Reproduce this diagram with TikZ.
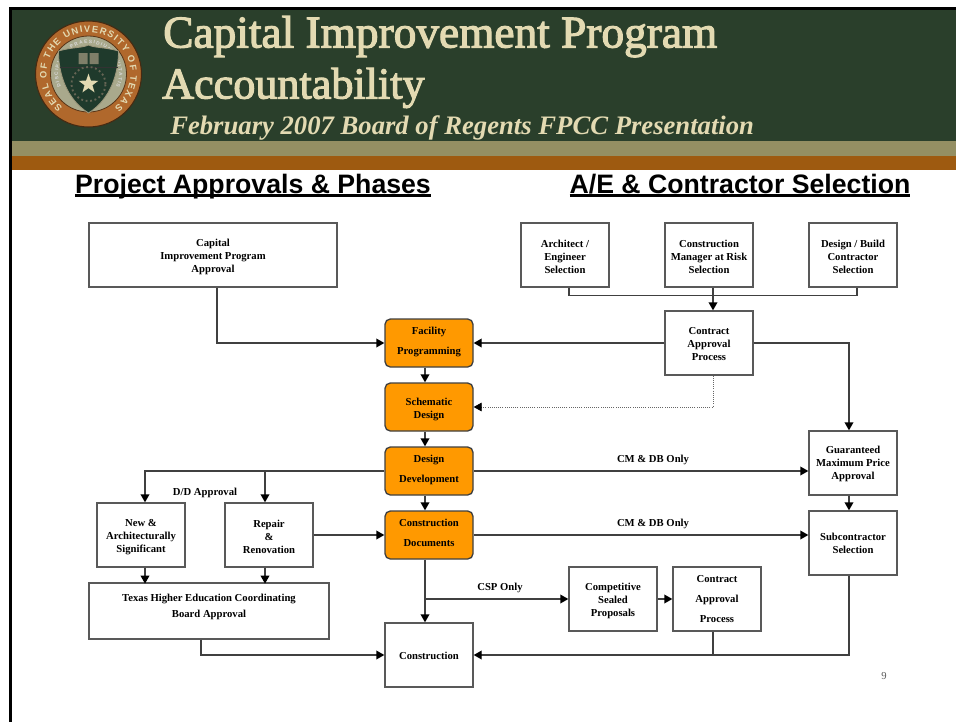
\documentclass[tikz,border=0pt]{standalone}
\usepackage{fontspec}
\setmainfont{Liberation Serif}
\setsansfont{Liberation Sans}
\newfontfamily\bannerfont[FakeBold=2.5]{Liberation Serif}
\usepackage{xcolor}
\usetikzlibrary{arrows.meta,calc,decorations.text,shapes.geometric}
\definecolor{bannergreen}{HTML}{2A3F2B}
\definecolor{bandtan}{HTML}{948F63}
\definecolor{bandbrown}{HTML}{9E5A10}
\definecolor{titlecream}{HTML}{E3DAB2}
\definecolor{phaseorange}{HTML}{FF9900}
\definecolor{sealbrown}{HTML}{B0682C}
\definecolor{sealbeige}{HTML}{A9A98C}
\definecolor{sealgreen}{HTML}{1F3A2C}
\newcommand{\headline}[1]{\setbox0=\hbox{#1}\rlap{\rule[-2.7pt]{\wd0}{1.8pt}}\box0}
\newcommand{\padlow}[1]{\\[#1]\mbox{}}
\newcommand{\padtop}[1]{\mbox{}\\[\dimexpr#1-4.35pt\relax]}
\tikzset{
    box/.style={draw=black!65,line width=1pt,fill=white,inner sep=0pt,minimum width=66pt,minimum height=48pt,align=center,font=\fontsize{8}{9.75}\selectfont\bfseries},
    phase/.style={box,fill=phaseorange,draw=black!75,rounded corners=4pt,minimum height=36pt},
    flow/.style={draw=black!75,line width=1pt,-{Triangle[length=6pt,width=6.5pt,color=black]}},
    joint/.style={draw=black!75,line width=1pt},
    tag/.style={font=\fontsize{8}{9.75}\selectfont\bfseries,inner sep=0pt},
    bigtitle/.style={anchor=base west,inner sep=0pt,text=titlecream,font=\fontsize{34}{34}\selectfont\bannerfont},
    colhead/.style={anchor=base,inner sep=0pt,font=\fontsize{20}{20}\selectfont\sffamily\bfseries}
}
\begin{document}
\begin{tikzpicture}[x=0.75pt,y=-0.75pt]
    \useasboundingbox (0,0) rectangle (956,722);
    \fill[white] (0,0) rectangle (956,722);

    \fill[black] (9,7) rectangle (956,9.5);
    \fill[black] (9,7) rectangle (11.7,722);
    \fill[bannergreen] (11.7,9.5) rectangle (956,141);
    \fill[bandtan] (11.7,141) rectangle (956,155.5);
    \fill[bandbrown] (11.7,155.5) rectangle (956,170);

    \begin{scope}[shift={(88.5,74)},y=0.75pt]
        \fill[sealbrown,draw=black!60!sealbrown,line width=0.8pt] (0,0) circle (53);
        \fill[sealbeige,draw=black!50!sealbrown,line width=0.6pt] (0,0) circle (38);
        \path[decorate,decoration={text along path,text align={fit to path},
            text={|\fontsize{7}{7}\selectfont\sffamily\bfseries\color{titlecream}|SEAL OF THE UNIVERSITY OF TEXAS}}]
            (232:42) arc[start angle=232,end angle=-52,radius=42];
        \path[decorate,decoration={text along path,text align={fit to path},
            text={|\fontsize{3.6}{3.6}\selectfont\sffamily\bfseries\color{white!85!black}|DISCIPLINA PRAESIDIUM CIVITATIS}}]
            (205:30.5) arc[start angle=205,end angle=-25,radius=30.5];
        \fill[sealgreen,draw=titlecream!70!black,line width=0.6pt] (-30,23) .. controls (-16,27) and (-6,26) .. (0,29)
            .. controls (6,26) and (16,27) .. (30,23)
            .. controls (30,0) and (22,-25) .. (0,-39)
            .. controls (-22,-25) and (-30,0) .. (-30,23) -- cycle;
        \draw[black!80,line width=0.6pt] (-29,7) -- (29,7);
        \fill[sealbeige!75!black] (-10,10) rectangle (-1,21) (1,10) rectangle (10,21);
        \draw[sealgreen,line width=0.5pt] (0,10) -- (0,21);
        \draw[sealbeige!60!black,line width=1.4pt,dotted] (0,-10) circle (17);
        \node[star,star points=5,star point ratio=2.5,fill=titlecream,inner sep=0pt,minimum size=15.5pt] (sealstar) at (0,-10) {};
    \end{scope}

    \node[bigtitle] (titleone) at (163,47.5) {Capital Improvement Program};
    \node[bigtitle,font=\fontsize{33.1}{34}\selectfont\bannerfont] (titletwo) at (162,98.5) {Accountability};
    \node[anchor=base west,inner sep=0pt,text=titlecream,font=\fontsize{20}{20}\selectfont\bfseries\itshape] (subtitle) at (170,134.5) {February 2007 Board of Regents FPCC Presentation};

    \node[colhead] (headleft) at (253,193) {\headline{Project Approvals \& Phases}};
    \node[colhead] (headright) at (740,193) {\headline{A/E \& Contractor Selection}};

    \node[box,minimum width=186pt] (capital) at (213,255) {\padtop{3pt}Capital\\Improvement Program\\Approval};
    \node[box] (architect) at (565,255) {\padtop{3pt}Architect /\\Engineer\\Selection};
    \node[box] (manager) at (709,255) {\padtop{3pt}Construction\\Manager at Risk\\Selection};
    \node[box] (builder) at (853,255) {\padtop{3pt}Design / Build\\Contractor\\Selection};
    \node[box] (contract) at (709,343) {\padtop{2pt}Contract\\Approval\\Process};

    \node[phase] (facility) at (429,343) {Facility\\[5.25pt]Programming\padlow{-6.75pt}};
    \node[phase] (schematic) at (429,407) {\padtop{4.5pt}Schematic\\Design};
    \node[phase] (design) at (429,471) {Design\\[5.25pt]Development\padlow{-6.75pt}};
    \node[phase] (documents) at (429,535) {Construction\\[5.25pt]Documents\padlow{-6.75pt}};

    \node[box] (guaranteed) at (853,463) {\padtop{2.25pt}Guaranteed\\Maximum Price\\Approval};
    \node[box] (subcontractor) at (853,543) {Subcontractor\\Selection};
    \node[box] (newbuild) at (141,535) {\padtop{3pt}New \&\\Architecturally\\Significant};
    \node[box] (repair) at (269,535) {\padtop{3pt}Repair\\\&\\Renovation};
    \node[box,minimum width=180pt,minimum height=42pt] (coordinating) at (209,611) {Texas Higher Education Coordinating\\[2.5pt]Board Approval\padlow{-1.9pt}};
    \node[box] (construction) at (429,655) {\padtop{1.5pt}Construction};
    \node[box] (sealed) at (613,599) {\padtop{3.5pt}Competitive\\Sealed\\Proposals};
    \node[box] (award) at (717,599) {Contract\\[5pt]Approval\\[5pt]Process};

    \node[tag] (ddtag) at (205,492.5) {D/D Approval};
    \node[tag] (cmtagone) at (653,459.5) {CM \& DB Only};
    \node[tag] (cmtagtwo) at (653,523.5) {CM \& DB Only};
    \node[tag] (csptag) at (500,588) {CSP Only};
    \node[inner sep=0pt,text=black!65,font=\fontsize{8}{9.75}\selectfont] (pagenum) at (884,676) {9};

    \draw[flow] ([xshift=3pt]capital.south) |- (facility.west);
    \draw[joint] ([xshift=3pt]architect.south) |- ([xshift=3pt,yshift=-6pt]builder.south) -- ([xshift=3pt]builder.south);
    \draw[flow] ([xshift=3pt]manager.south) -- ([xshift=3pt]contract.north);
    \draw[flow] (contract.west) -- (facility.east);
    \draw[flow] (contract.east) -| ([xshift=-3pt]guaranteed.north);
    \draw[flow,draw=black!60,line width=0.6pt,densely dotted] ([xshift=3pt]contract.south) |- (schematic.east);

    \draw[flow] ([xshift=-3pt]facility.south) -- ([xshift=-3pt]schematic.north);
    \draw[flow] ([xshift=-3pt]schematic.south) -- ([xshift=-3pt]design.north);
    \draw[flow] ([xshift=-3pt]design.south) -- ([xshift=-3pt]documents.north);
    \draw[flow] ([xshift=-3pt]documents.south) -- ([xshift=-3pt]construction.north);

    \draw[flow] (design.west) -| ([xshift=3pt]newbuild.north);
    \draw[flow] (design.west) -| ([xshift=-3pt]repair.north);
    \draw[flow] (design.east) -- (design.east -| guaranteed.west);
    \draw[flow] (documents.east) -- (documents.east -| subcontractor.west);
    \draw[flow] (repair.east) -- (documents.west);
    \draw[flow] ([xshift=-3pt]guaranteed.south) -- ([xshift=-3pt]subcontractor.north);

    \draw[flow] ([xshift=3pt]newbuild.south) -- ([xshift=3pt,yshift=-12pt]newbuild.south);
    \draw[flow] ([xshift=-3pt]repair.south) -- ([xshift=-3pt,yshift=-12pt]repair.south);
    \draw[flow] ([xshift=-6pt]coordinating.south) |- (construction.west);

    \coordinate (cspfork) at ([xshift=-3pt]documents.south |- sealed.west);
    \draw[flow] (cspfork) -- (sealed.west);
    \draw[flow] (sealed.east) -- (award.west);
    \draw[flow] ([xshift=-3pt]subcontractor.south) |- (construction.east);
    \draw[joint] ([xshift=-3pt]award.south) -- ([xshift=-3pt]award.south |- construction.east);
\end{tikzpicture}
\end{document}
